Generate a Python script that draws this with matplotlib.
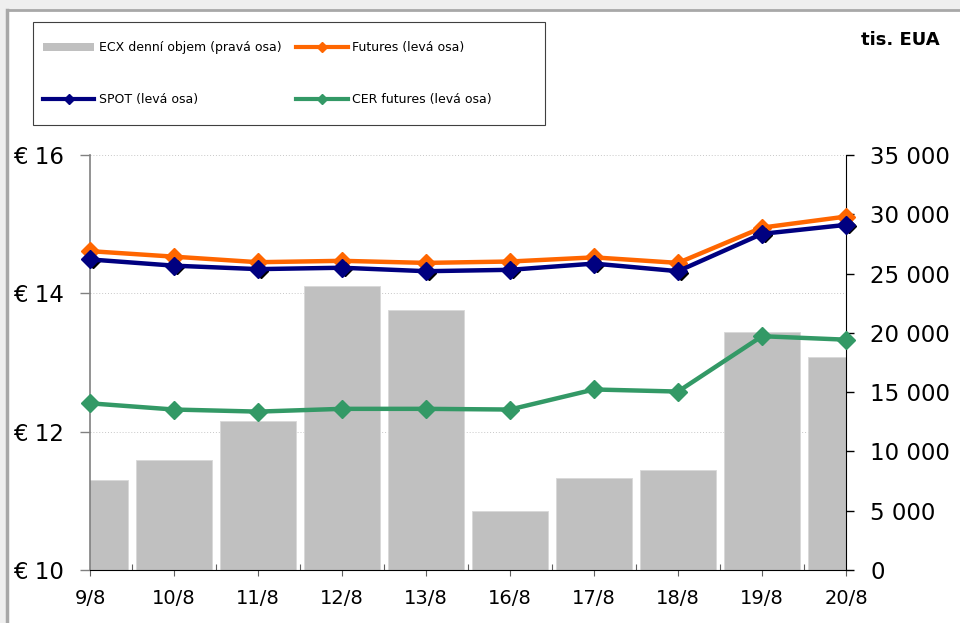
"""Povolenky EUA: denní ceny a objem ECX."""
import matplotlib
matplotlib.use("Agg")
import matplotlib.pyplot as plt
import matplotlib.ticker as ticker
from matplotlib.lines import Line2D
from matplotlib.patches import Patch, Rectangle
from matplotlib.transforms import blended_transform_factory, offset_copy

DAYS = ["9/8", "10/8", "11/8", "12/8", "13/8", "16/8", "17/8", "18/8", "19/8", "20/8"]
VOLUME = [7570, 9250, 12570, 23950, 21960, 4950, 7800, 8470, 20050, 17950]   # tis. EUA
FUTURES = [14.61, 14.53, 14.45, 14.47, 14.44, 14.46, 14.52, 14.44, 14.95, 15.11]
SPOT = [14.49, 14.40, 14.35, 14.37, 14.32, 14.34, 14.43, 14.32, 14.86, 14.99]
CER = [12.41, 12.32, 12.29, 12.33, 12.33, 12.32, 12.61, 12.58, 13.38, 13.33]

ORANGE = "#FF6600"
NAVY = "#000080"
GREEN = "#339966"
BAR = "#C0C0C0"

plt.rcParams.update({"font.family": "DejaVu Sans"})

W, H = 960, 623
fig = plt.figure(figsize=(W / 100, H / 100), dpi=100)
fig.patch.set_facecolor("#efefef")
fig.add_artist(Rectangle((7 / W, 0), 1, 1 - 10 / H, transform=fig.transFigure,
                         facecolor="white", edgecolor="none", zorder=-5))
fig.add_artist(Line2D([7 / W, 7 / W], [0, 1 - 10 / H], color="#a8a8a8", lw=2.5))
fig.add_artist(Line2D([7 / W, 1], [1 - 10 / H, 1 - 10 / H], color="#a8a8a8", lw=2))

ax = fig.add_axes([90 / W, 1 - 570 / H, 756 / W, 415 / H])
axb = ax.twinx()
axb.set_zorder(ax.get_zorder() - 1)
ax.patch.set_visible(False)
axb.patch.set_facecolor("white")

x = list(range(len(DAYS)))

# objem - pravá osa
axb.bar(x, VOLUME, width=0.91, color=BAR, edgecolor="#d8d8d8", linewidth=0.6, zorder=2)
axb.set_ylim(0, 35000)
axb.set_xlim(0, len(DAYS) - 1)
axb.yaxis.set_major_locator(ticker.MultipleLocator(5000))
axb.yaxis.set_major_formatter(ticker.FuncFormatter(lambda v, p: f"{int(v):,}".replace(",", " ")))

# mřížka podle levé osy, pod sloupci
ax.set_ylim(10, 16)
gtrans = blended_transform_factory(axb.transAxes, ax.transData)
for gy in [12, 14, 16]:
    axb.add_line(Line2D([0, 1], [gy, gy], transform=gtrans, color="#c8c8c8",
                        lw=0.7, ls=(0, (1, 2)), zorder=1))

# ceny - levá osa
ax.plot(x, FUTURES, color=ORANGE, lw=3.2, marker="D", ms=9, clip_on=False, zorder=4)
shadow = offset_copy(ax.transData, fig=fig, x=3, y=-1.5, units="dots")
ax.plot(x, SPOT, color="black", lw=0, marker="D", ms=7, transform=shadow,
        clip_on=False, zorder=4.5)
ax.plot(x, SPOT, color=NAVY, lw=3.2, marker="D", ms=9, clip_on=False, zorder=5)
ax.plot(x, CER, color=GREEN, lw=3.2, marker="D", ms=9, clip_on=False, zorder=4)

ax.set_xlim(0, len(DAYS) - 1)
ax.yaxis.set_major_locator(ticker.MultipleLocator(2))
ax.yaxis.set_major_formatter(ticker.FuncFormatter(lambda v, p: f"€ {int(v)}"))
ax.set_xticks(x)
ax.set_xticklabels(DAYS)
ax.set_xticks([i + 0.5 for i in x[:-1]], minor=True)

for s in ["top"]:
    ax.spines[s].set_visible(False)
    axb.spines[s].set_visible(False)
ax.spines["right"].set_visible(False)
axb.spines["left"].set_visible(False)
axb.spines["bottom"].set_visible(False)
ax.spines["left"].set_color("#808080")
ax.spines["left"].set_linewidth(1.2)
ax.spines["bottom"].set_color("black")
axb.spines["right"].set_color("black")

ax.tick_params(axis="y", direction="out", length=7.5, width=1, color="#808080",
               labelsize=16.5, pad=11)
ax.tick_params(axis="x", which="major", direction="out", length=4.5, width=0.8,
               color="#606060", labelsize=14, pad=9)
ax.tick_params(axis="x", which="minor", direction="in", length=4.5, width=0.8,
               color="#606060")
axb.tick_params(axis="y", direction="out", length=5.5, width=1, color="black",
                labelsize=16.5, pad=12)

# legenda
fig.add_artist(Rectangle((33 / W, 1 - 125 / H), 512 / W, 103 / H, transform=fig.transFigure,
                         facecolor="white", edgecolor="#404040", lw=0.8))
handles = [
    Patch(facecolor=BAR, edgecolor="none"),
    Line2D([], [], color=NAVY, lw=3, marker="D", ms=5),
    Line2D([], [], color=ORANGE, lw=3, marker="D", ms=5),
    Line2D([], [], color=GREEN, lw=3, marker="D", ms=5),
]
labels = ["ECX denní objem (pravá osa)", "SPOT (levá osa)",
          "Futures (levá osa)", "CER futures (levá osa)"]
fig.legend(handles, labels, ncol=2, frameon=False, fontsize=9,
           loc="upper left", bbox_to_anchor=(38 / W, 1 - 36 / H), borderaxespad=0,
           handlelength=4.1, handleheight=0.6, handletextpad=0.4,
           columnspacing=1.15, labelspacing=3.15)

fig.text(940 / W, 1 - 40 / H, "tis. EUA", ha="right", va="center",
         fontsize=13, fontweight="bold")

fig.savefig("out.png", dpi=100, facecolor=fig.get_facecolor())
